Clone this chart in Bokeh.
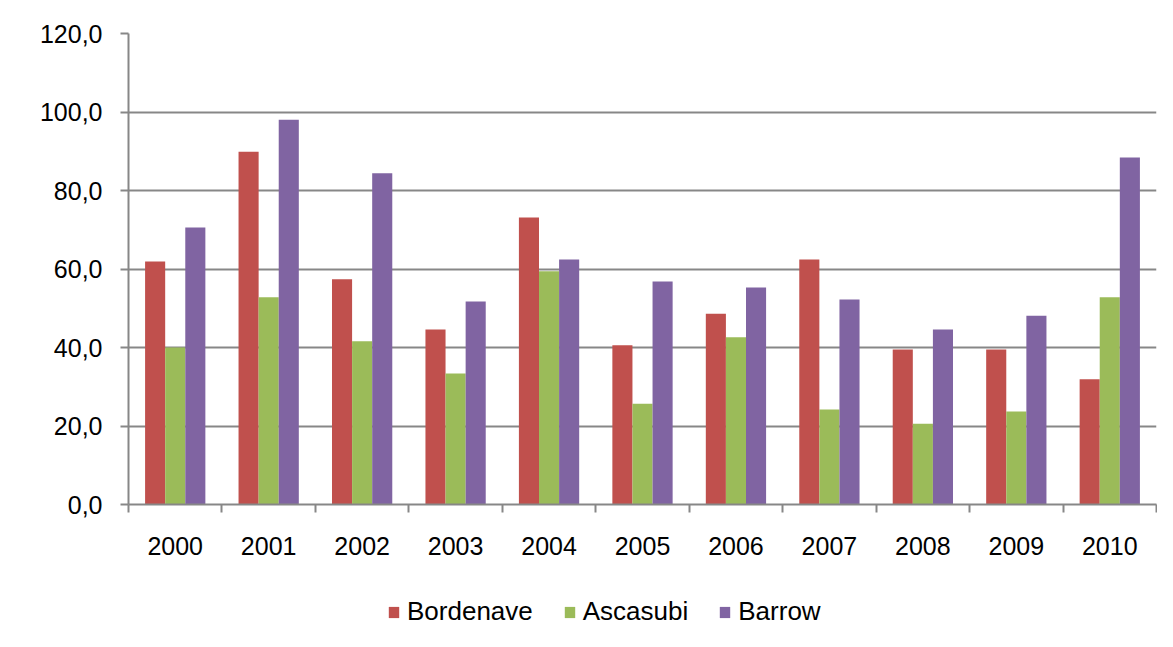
from bokeh.plotting import figure
from bokeh.models import ColumnDataSource, Range1d, FixedTicker, Legend, LegendItem
from bokeh.layouts import column
from bokeh.embed import file_html
from bokeh.resources import INLINE

years = ["2000", "2001", "2002", "2003", "2004", "2005", "2006", "2007", "2008", "2009", "2010"]
bordenave = [61.9, 89.9, 57.4, 44.6, 73.1, 40.6, 48.6, 62.4, 39.5, 39.5, 31.9]
ascasubi = [40.0, 52.8, 41.6, 33.4, 59.4, 25.7, 42.6, 24.2, 20.6, 23.7, 52.8]
barrow = [70.6, 98.0, 84.4, 51.7, 62.4, 56.8, 55.3, 52.2, 44.6, 48.1, 88.4]
series_names = ["Bordenave", "Ascasubi", "Barrow"]
colors = ["#C0504D", "#9BBB59", "#8064A2"]
y_ticks = [0, 20, 40, 60, 80, 100, 120]
y_labels = ["0,0", "20,0", "40,0", "60,0", "80,0", "100,0", "120,0"]

FONT = "Liberation Sans"
GRAY = "#878787"
W = 1157
H_MAIN = 572
H_LEG = 59

p = figure(width=W, height=H_MAIN, output_backend="svg", toolbar_location=None,
           x_range=Range1d(0, len(years)), y_range=Range1d(0, 120),
           min_border_left=128, min_border_right=1, min_border_top=33,
           min_border_bottom=H_MAIN - 504)
p.background_fill_color = "white"
p.border_fill_color = "white"
p.outline_line_color = None

centers = [i + 0.5 for i in range(len(years))]
bw = 0.215
offsets = [-bw, 0.0, bw]
for name, vals, col, off in zip(series_names, [bordenave, ascasubi, barrow], colors, offsets):
    src = ColumnDataSource(dict(x=[c + off for c in centers], top=vals))
    p.vbar(x="x", top="top", bottom=0, width=bw, source=src,
           fill_color=col, line_color=None)

# x axis
xa = p.xaxis[0]
xa.ticker = FixedTicker(ticks=centers, minor_ticks=list(range(len(years) + 1)))
xa.major_label_overrides = {c: y for c, y in zip(centers, years)}
xa.major_tick_line_color = None
xa.major_tick_out = 0
xa.major_tick_in = 0
xa.minor_tick_out = 8
xa.minor_tick_in = 0
xa.minor_tick_line_color = GRAY
xa.minor_tick_line_width = 2
xa.axis_line_color = GRAY
xa.axis_line_width = 2
xa.major_label_text_font = FONT
xa.major_label_text_font_size = "25px"
xa.major_label_text_color = "black"
xa.major_label_standoff = 24

# y axis
ya = p.yaxis[0]
ya.ticker = FixedTicker(ticks=y_ticks)
ya.major_label_overrides = {t: l for t, l in zip(y_ticks, y_labels)}
ya.minor_tick_line_color = None
ya.major_tick_out = 8
ya.major_tick_in = 0
ya.major_tick_line_color = GRAY
ya.major_tick_line_width = 2
ya.axis_line_color = GRAY
ya.axis_line_width = 2
ya.major_label_text_font = FONT
ya.major_label_text_font_size = "25px"
ya.major_label_text_color = "black"
ya.major_label_standoff = 18

p.xgrid.grid_line_color = None
p.ygrid.grid_line_color = GRAY
p.ygrid.grid_line_width = 2

# legend strip
lg = figure(width=W, height=H_LEG, output_backend="svg", toolbar_location=None,
            x_range=Range1d(0, 100), y_range=Range1d(0, 100),
            x_axis_type=None, y_axis_type=None,
            min_border_left=0, min_border_right=0, min_border_top=0, min_border_bottom=0)
lg.outline_line_color = None
lg.background_fill_color = "white"
lg.border_fill_color = "white"
lg.xgrid.visible = False
lg.ygrid.visible = False
items = []
for name, col in zip(series_names, colors):
    r = lg.vbar(x=[-1000], top=[1], width=1, fill_color=col, line_color=None)
    items.append(LegendItem(label=name, renderers=[r]))
legend = Legend(items=items, orientation="horizontal", location=(259, 4),
                glyph_width=13, glyph_height=14, label_standoff=7, spacing=30,
                padding=0, margin=0, border_line_color=None,
                background_fill_alpha=0,
                label_text_font=FONT, label_text_font_size="26px",
                label_text_color="black")
lg.add_layout(legend, "center")

layout = column(p, lg, spacing=0)
open("out.html", "w").write(file_html(layout, INLINE))
